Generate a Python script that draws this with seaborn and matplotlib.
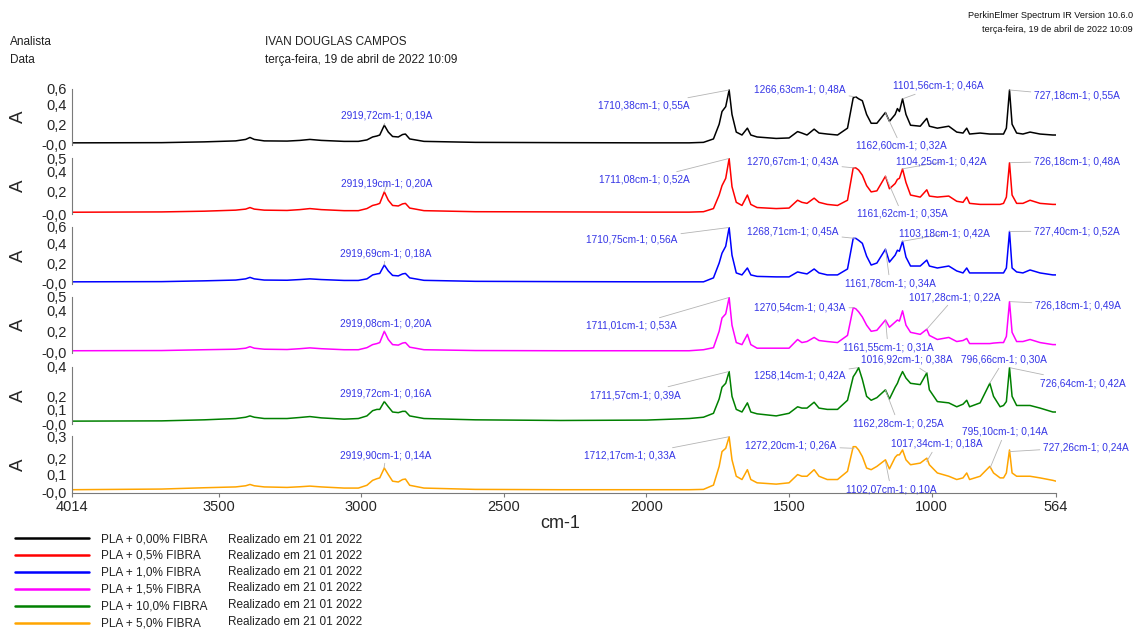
import matplotlib
matplotlib.use("Agg")
import matplotlib.pyplot as plt
from matplotlib.lines import Line2D
import numpy as np
import pandas as pd
import seaborn as sns

# ---------------- DATA ----------------
wavenumber = [4014, 3700, 3550, 3440, 3405, 3390, 3375, 3340, 3260, 3215, 3180, 3140, 3060, 3010,
              2980, 2960, 2945, 2935, 2919, 2905, 2890, 2870, 2855, 2845, 2830, 2780, 2600, 2300,
              2000, 1850,
              1800, 1765, 1745, 1735, 1722, 1710, 1700, 1685, 1665, 1646, 1634, 1612, 1545, 1500,
              1470, 1455, 1437, 1412, 1395, 1366, 1330, 1295, 1275, 1266, 1256, 1243, 1228, 1212,
              1192, 1162, 1148, 1128, 1120, 1113, 1102, 1090, 1074, 1040, 1017, 1008, 980, 940,
              912, 890, 877, 867, 830, 796, 783, 760, 748, 738, 727, 718, 702, 680, 655, 620, 575, 564]

abs_pla_000 = [0.010, 0.012, 0.020, 0.030, 0.045, 0.065, 0.045, 0.030, 0.028, 0.035, 0.045, 0.035, 0.025, 0.025,
               0.040, 0.070, 0.080, 0.090, 0.190, 0.120, 0.075, 0.070, 0.095, 0.100, 0.050, 0.025, 0.015, 0.012,
               0.010, 0.010,
               0.015, 0.050, 0.200, 0.330, 0.380, 0.550, 0.300, 0.120, 0.090, 0.160, 0.090, 0.070, 0.055, 0.060,
               0.125, 0.110, 0.090, 0.150, 0.110, 0.100, 0.090, 0.160, 0.470, 0.480, 0.460, 0.440, 0.300, 0.210,
               0.210, 0.320, 0.230, 0.300, 0.360, 0.330, 0.460, 0.300, 0.190, 0.180, 0.260, 0.180, 0.160, 0.180,
               0.120, 0.110, 0.160, 0.100, 0.110, 0.100, 0.100, 0.100, 0.100, 0.160, 0.550, 0.200, 0.110, 0.100,
               0.120, 0.100, 0.090, 0.090]

abs_pla_05 = [0.005, 0.008, 0.015, 0.025, 0.035, 0.050, 0.035, 0.025, 0.022, 0.030, 0.040, 0.030, 0.020, 0.020,
              0.040, 0.070, 0.080, 0.090, 0.200, 0.120, 0.070, 0.065, 0.085, 0.090, 0.045, 0.020, 0.010, 0.008,
              0.006, 0.006,
              0.010, 0.040, 0.170, 0.260, 0.330, 0.520, 0.250, 0.100, 0.070, 0.170, 0.080, 0.050, 0.040, 0.045,
              0.120, 0.100, 0.090, 0.140, 0.100, 0.080, 0.070, 0.120, 0.430, 0.430, 0.410, 0.360, 0.260, 0.200,
              0.210, 0.350, 0.230, 0.280, 0.320, 0.330, 0.420, 0.290, 0.170, 0.150, 0.220, 0.160, 0.150, 0.160,
              0.110, 0.100, 0.150, 0.090, 0.080, 0.080, 0.080, 0.080, 0.090, 0.150, 0.480, 0.170, 0.090, 0.090,
              0.120, 0.090, 0.080, 0.080]

abs_pla_10 = [0.010, 0.012, 0.020, 0.028, 0.040, 0.055, 0.040, 0.028, 0.026, 0.033, 0.040, 0.033, 0.024, 0.024,
              0.040, 0.080, 0.090, 0.095, 0.180, 0.120, 0.075, 0.070, 0.090, 0.095, 0.050, 0.025, 0.015, 0.012,
              0.010, 0.010,
              0.010, 0.050, 0.200, 0.300, 0.370, 0.560, 0.280, 0.100, 0.080, 0.150, 0.080, 0.065, 0.060, 0.060,
              0.110, 0.100, 0.090, 0.140, 0.100, 0.080, 0.080, 0.140, 0.450, 0.450, 0.430, 0.400, 0.270, 0.180,
              0.200, 0.340, 0.210, 0.280, 0.330, 0.320, 0.420, 0.260, 0.170, 0.170, 0.230, 0.170, 0.150, 0.170,
              0.120, 0.100, 0.150, 0.100, 0.100, 0.100, 0.100, 0.100, 0.100, 0.150, 0.520, 0.150, 0.110, 0.100,
              0.130, 0.100, 0.080, 0.080]

abs_pla_15 = [0.010, 0.012, 0.020, 0.025, 0.035, 0.050, 0.035, 0.025, 0.022, 0.030, 0.038, 0.030, 0.020, 0.020,
              0.040, 0.070, 0.080, 0.090, 0.200, 0.120, 0.070, 0.065, 0.085, 0.090, 0.045, 0.020, 0.012, 0.010,
              0.010, 0.010,
              0.020, 0.040, 0.200, 0.330, 0.370, 0.530, 0.260, 0.090, 0.070, 0.170, 0.070, 0.035, 0.035, 0.035,
              0.120, 0.090, 0.100, 0.140, 0.110, 0.100, 0.090, 0.160, 0.430, 0.420, 0.390, 0.340, 0.260, 0.200,
              0.210, 0.310, 0.240, 0.290, 0.310, 0.300, 0.400, 0.260, 0.190, 0.170, 0.220, 0.160, 0.120, 0.140,
              0.100, 0.110, 0.130, 0.080, 0.080, 0.080, 0.085, 0.090, 0.090, 0.150, 0.490, 0.190, 0.100, 0.100,
              0.120, 0.090, 0.070, 0.070]

abs_pla_100 = [0.010, 0.012, 0.020, 0.030, 0.040, 0.050, 0.040, 0.030, 0.030, 0.038, 0.045, 0.035, 0.025, 0.030,
               0.050, 0.090, 0.100, 0.100, 0.160, 0.120, 0.080, 0.075, 0.085, 0.085, 0.050, 0.030, 0.020, 0.015,
               0.018, 0.030,
               0.040, 0.070, 0.180, 0.270, 0.300, 0.390, 0.200, 0.100, 0.080, 0.150, 0.080, 0.066, 0.050, 0.070,
               0.120, 0.110, 0.110, 0.155, 0.110, 0.100, 0.100, 0.170, 0.350, 0.380, 0.420, 0.330, 0.200, 0.170,
               0.190, 0.250, 0.180, 0.270, 0.300, 0.340, 0.390, 0.340, 0.300, 0.290, 0.380, 0.250, 0.160, 0.150,
               0.120, 0.140, 0.170, 0.120, 0.150, 0.300, 0.200, 0.120, 0.130, 0.160, 0.420, 0.200, 0.130, 0.130,
               0.130, 0.110, 0.080, 0.080]

abs_pla_50 = [0.008, 0.012, 0.020, 0.025, 0.032, 0.040, 0.032, 0.025, 0.022, 0.026, 0.030, 0.025, 0.018, 0.018,
              0.035, 0.065, 0.075, 0.080, 0.140, 0.100, 0.060, 0.055, 0.070, 0.073, 0.035, 0.018, 0.010, 0.008,
              0.008, 0.008,
              0.010, 0.036, 0.150, 0.240, 0.260, 0.330, 0.190, 0.090, 0.070, 0.130, 0.070, 0.050, 0.042, 0.050,
              0.100, 0.090, 0.090, 0.130, 0.090, 0.070, 0.070, 0.120, 0.270, 0.270, 0.250, 0.210, 0.140, 0.130,
              0.150, 0.190, 0.135, 0.205, 0.220, 0.220, 0.250, 0.190, 0.160, 0.170, 0.200, 0.160, 0.110, 0.090,
              0.070, 0.080, 0.110, 0.070, 0.090, 0.150, 0.110, 0.080, 0.080, 0.110, 0.250, 0.110, 0.090, 0.090,
              0.090, 0.080, 0.065, 0.060]

series_names = ["PLA + 0,00% FIBRA", "PLA + 0,5% FIBRA", "PLA + 1,0% FIBRA",
                "PLA + 1,5% FIBRA", "PLA + 10,0% FIBRA", "PLA + 5,0% FIBRA"]
series_values = [abs_pla_000, abs_pla_05, abs_pla_10, abs_pla_15, abs_pla_100, abs_pla_50]
run_note = "Realizado em 21 01 2022"

x_ticks = [4014, 3500, 3000, 2500, 2000, 1500, 1000, 564]
y_top_labels = ["0,6", "0,5", "0,6", "0,5", "0,4", "0,3"]
y_mid_ticks = [[0.2, 0.4], [0.2, 0.4], [0.2, 0.4], [0.2, 0.4], [0.1, 0.2], [0.1, 0.2]]

peak_labels = [
    ["2919,72cm-1; 0,19A", "1710,38cm-1; 0,55A", "1266,63cm-1; 0,48A", "1101,56cm-1; 0,46A",
     "1162,60cm-1; 0,32A", "727,18cm-1; 0,55A"],
    ["2919,19cm-1; 0,20A", "1711,08cm-1; 0,52A", "1270,67cm-1; 0,43A", "1104,25cm-1; 0,42A",
     "1161,62cm-1; 0,35A", "726,18cm-1; 0,48A"],
    ["2919,69cm-1; 0,18A", "1710,75cm-1; 0,56A", "1268,71cm-1; 0,45A", "1103,18cm-1; 0,42A",
     "1161,78cm-1; 0,34A", "727,40cm-1; 0,52A"],
    ["2919,08cm-1; 0,20A", "1711,01cm-1; 0,53A", "1270,54cm-1; 0,43A", "1017,28cm-1; 0,22A",
     "1161,55cm-1; 0,31A", "726,18cm-1; 0,49A"],
    ["2919,72cm-1; 0,16A", "1711,57cm-1; 0,39A", "1258,14cm-1; 0,42A", "1016,92cm-1; 0,38A",
     "796,66cm-1; 0,30A", "1162,28cm-1; 0,25A", "726,64cm-1; 0,42A"],
    ["2919,90cm-1; 0,14A", "1712,17cm-1; 0,33A", "1272,20cm-1; 0,26A", "1017,34cm-1; 0,18A",
     "795,10cm-1; 0,14A", "1102,07cm-1; 0,10A", "727,26cm-1; 0,24A"],
]
peak_wn = [
    [2919.72, 1710.38, 1266.63, 1101.56, 1162.60, 727.18],
    [2919.19, 1711.08, 1270.67, 1104.25, 1161.62, 726.18],
    [2919.69, 1710.75, 1268.71, 1103.18, 1161.78, 727.40],
    [2919.08, 1711.01, 1270.54, 1017.28, 1161.55, 726.18],
    [2919.72, 1711.57, 1258.14, 1016.92, 796.66, 1162.28, 726.64],
    [2919.90, 1712.17, 1272.20, 1017.34, 795.10, 1162.0, 727.26],
]
peak_abs = [
    [0.19, 0.55, 0.48, 0.46, 0.32, 0.55],
    [0.20, 0.52, 0.43, 0.42, 0.35, 0.48],
    [0.18, 0.56, 0.45, 0.42, 0.34, 0.52],
    [0.20, 0.53, 0.43, 0.22, 0.31, 0.49],
    [0.16, 0.39, 0.42, 0.38, 0.30, 0.25, 0.42],
    [0.14, 0.33, 0.26, 0.18, 0.14, 0.18, 0.24],
]

# ---------------- LAYOUT / STYLE ----------------
W, H = 1135, 630
AX_L, AX_R = 72, 1056
panel_px = [(89, 145), (158, 214), (227, 284), (297, 353), (367, 424), (436, 493)]
y_min = -0.012
y_max = [0.56, 0.525, 0.565, 0.535, 0.425, 0.335]
colors = ["#000000", "#ff0000", "#0000ff", "#ff00ff", "#008000", "#ffa500"]
label_pos = [
    [(387, 115), (644, 106), (800, 89), (938, 86), (901, 146), (1077, 96)],
    [(387, 184), (644, 180), (793, 162), (941, 162), (902, 214), (1077, 161)],
    [(386, 253), (632, 240), (793, 232), (944, 234), (890, 283), (1077, 231)],
    [(386, 323), (631, 326), (800, 308), (955, 297), (888, 347), (1078, 305)],
    [(386, 393), (635, 395), (800, 376), (907, 360), (1004, 360), (898, 423), (1083, 383)],
    [(386, 455), (630, 456), (791, 446), (937, 444), (1005, 432), (891, 489), (1086, 447)],
]
legend_rows_y = [540, 556, 572, 588, 605, 622]

sns.set_theme(style="white")
plt.rcParams["font.family"] = ["Liberation Sans", "DejaVu Sans"]

fig = plt.figure(figsize=(W / 100, H / 100), dpi=100)
ann_color = "#3535e6"
axis_gray = "#7a7a7a"

axes = []
for i in range(6):
    top, bot = panel_px[i]
    ax = fig.add_axes([AX_L / W, 1 - bot / H, (AX_R - AX_L) / W, (bot - top) / H])
    ax.patch.set_visible(False)
    df = pd.DataFrame({"wn": wavenumber, "A": series_values[i]})
    sns.lineplot(data=df, x="wn", y="A", ax=ax, color=colors[i], linewidth=1.1,
                 estimator=None, sort=False)
    ax.set_xlim(4014, 564)
    ax.set_ylim(y_min, y_max[i])
    ticks = [y_min] + y_mid_ticks[i] + [y_max[i]]
    labels = ["-0,0"] + [f"{t:.1f}".replace(".", ",") for t in y_mid_ticks[i]] + [y_top_labels[i]]
    ax.set_yticks(ticks)
    ax.set_yticklabels(labels, fontsize=10.5)
    ax.tick_params(axis="y", direction="out", length=3, width=0.8, color=axis_gray, pad=1)
    for s in ["top", "right"]:
        ax.spines[s].set_visible(False)
    ax.spines["left"].set_color(axis_gray)
    ax.spines["left"].set_linewidth(0.8)
    ax.set_ylabel("A", fontsize=13.5, rotation=90)
    ax.yaxis.set_label_coords((27 - AX_L) / (AX_R - AX_L), 0.5)
    if i < 5:
        ax.spines["bottom"].set_visible(False)
        ax.set_xticks([])
        ax.set_xlabel("")
    else:
        ax.spines["bottom"].set_color(axis_gray)
        ax.spines["bottom"].set_linewidth(0.8)
        ax.set_xticks(x_ticks)
        ax.set_xticklabels([str(t) for t in x_ticks], fontsize=10.5)
        ax.tick_params(axis="x", direction="out", length=3, width=0.8, color=axis_gray, pad=2,
                       bottom=True)
        ax.set_xlabel("cm-1", fontsize=13)
        ax.xaxis.set_label_coords(0.496, (bot - 515) / (bot - top))
    for lab, wn, a, (px, py) in zip(peak_labels[i], peak_wn[i], peak_abs[i], label_pos[i]):
        ax.annotate(lab, xy=(wn, a), xycoords="data", xytext=(px, H - py),
                    textcoords="figure pixels", ha="center", va="center",
                    fontsize=7.3, color=ann_color, annotation_clip=False, zorder=5,
                    arrowprops=dict(arrowstyle="-", color="#b4b4b4", lw=0.6,
                                    shrinkA=0, shrinkB=0))
    axes.append(ax)

# header texts
hdr = dict(fontsize=8.5, color="#202020", va="center")
fig.text(10 / W, 1 - 42 / H, "Analista", **hdr)
fig.text(10 / W, 1 - 60 / H, "Data", **hdr)
fig.text(265 / W, 1 - 42 / H, "IVAN DOUGLAS CAMPOS", **hdr)
fig.text(265 / W, 1 - 60 / H, "terça-feira, 19 de abril de 2022 10:09", **hdr)
fig.text(1133 / W, 1 - 15 / H, "PerkinElmer Spectrum IR Version 10.6.0", fontsize=6.6,
         ha="right", va="center", color="#101010")
fig.text(1133 / W, 1 - 29 / H, "terça-feira, 19 de abril de 2022 10:09", fontsize=6.6,
         ha="right", va="center", color="#101010")

# legend
handles = [Line2D([], [], color=c, lw=1.8) for c in colors]
fig.legend(handles, series_names, loc="upper left",
           bbox_to_anchor=(15 / W, 1 - 533 / H), frameon=False, fontsize=8.5,
           handlelength=6.3, handletextpad=1.0, labelspacing=0.42,
           borderpad=0, borderaxespad=0, labelcolor="#202020")
for y in legend_rows_y:
    fig.text(228 / W, 1 - y / H, run_note, fontsize=8.5, va="center", color="#202020")

fig.savefig("out.png", dpi=100)
